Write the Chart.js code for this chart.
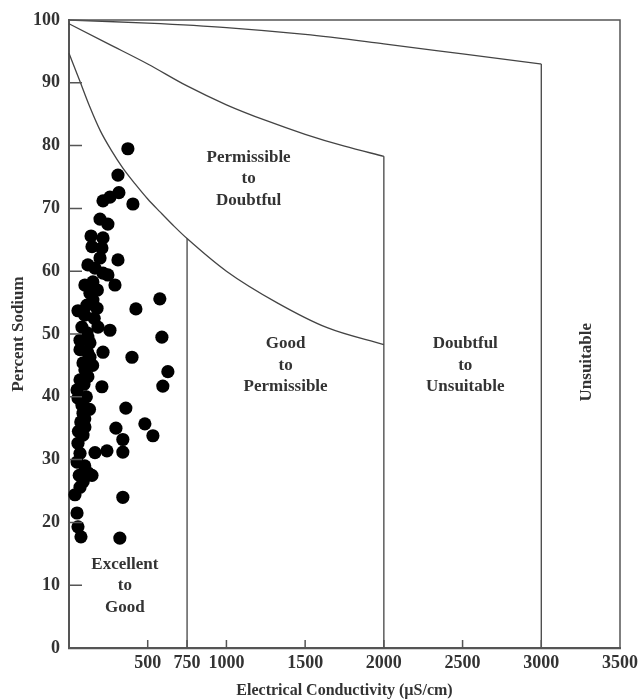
<!DOCTYPE html>
<html>
<head>
<meta charset="utf-8">
<script src="https://cdn.jsdelivr.net/npm/chart.js@4.4.1/dist/chart.umd.min.js"></script>
<style>
  html, body { margin: 0; padding: 0; background: #fff; }
  #wrap { width: 639px; height: 700px; position: relative; }
</style>
</head>
<body>
<div id="wrap"><canvas id="wilcox"></canvas></div>
<script>
// Wilcox 图 · 电导率 vs 钠百分比

const EC_TICKS = [500, 750, 1000, 1500, 2000, 2500, 3000, 3500];

// 样点（EC μS/cm, Na %）
const SAMPLE_EC = [374, 311, 317, 260, 216, 406, 197, 247, 140, 216, 146, 209, 197, 311, 120, 216, 247, 101, 292, 152,
  133, 152, 178, 114, 577, 425, 57, 184, 260, 82, 114, 590, 70, 133, 216, 70, 133, 400, 89, 101,
  628, 120, 70, 209, 596, 51, 57, 82, 361, 89, 101, 482, 298, 89, 533, 342, 342, 57, 241, 165,
  51, 120, 146, 70, 38, 342, 51, 57, 76, 323,
  100, 160, 120, 150, 110, 130, 100, 75, 60, 70, 100, 65, 90, 165, 180, 120, 95];
const SAMPLE_NA = [79.5, 75.3, 72.5, 71.8, 71.2, 70.7, 68.3, 67.5, 65.6, 65.3, 63.9, 63.7, 62.1, 61.8, 61, 59.7, 59.4, 57.8, 57.8, 58.3,
  56.5, 55.4, 54.1, 54.6, 55.6, 54, 53.7, 51.1, 50.6, 51.1, 50.2, 49.5, 49, 48.6, 47.1, 47.5, 46.3, 46.3, 45.4, 44.3,
  44, 43.2, 42.7, 41.6, 41.7, 41.1, 39.8, 38.7, 38.2, 37.4, 35.2, 35.7, 35, 33.9, 33.8, 33.2, 31.2, 32.6, 31.4, 31.1,
  29.6, 27.9, 27.5, 25.6, 24.4, 24, 21.5, 19.3, 17.7, 17.5,
  53, 52.5, 49.5, 45, 40, 38, 36.5, 36, 34.5, 31, 29, 27.5, 26.5, 60.5, 57, 47, 42];

// 分区边界曲线
const BOUND_A_EC = [0, 70, 130, 200, 270, 340, 420, 500, 580, 670, 750, 1000, 1320, 1640, 2000];
const BOUND_A_NA = [94.7, 90.2, 86.3, 82.3, 79.2, 76.5, 73.9, 71.5, 69.4, 67.1, 65.2, 60, 55, 51, 48.3];
const BOUND_B_EC = [0, 250, 500, 750, 1000, 1250, 1500, 1750, 2000];
const BOUND_B_NA = [99.4, 96.2, 93, 89.5, 86.5, 84, 81.8, 79.9, 78.3];
const BOUND_C_EC = [0, 500, 1000, 1500, 2000, 2500, 3000];
const BOUND_C_NA = [100, 99.5, 98.8, 97.7, 96.2, 94.6, 93];

// 竖直分隔线
const DIVIDER_EC = [750, 2000, 3000];
const DIVIDER_TOP = [65.2, 78.3, 93];

// 分区文字
const ZONE_TEXT = [
  ["Permissible", "to", "Doubtful"],
  ["Good", "to", "Permissible"],
  ["Doubtful", "to", "Unsuitable"],
  ["Unsuitable"],
  ["Excellent", "to", "Good"],
];
const ZONE_EC = [1141, 1376, 2517, 3285, 355];
const ZONE_NA = [74.7, 45, 45, 45.5, 9.9];

const INK = "#333";
const LINE = "#444";
const FONT = "'Liberation Serif', 'DejaVu Serif', serif";

const pts = (xs, ys) => xs.map((x, i) => ({ x, y: ys[i] }));

const lineDs = (xs, ys) => ({
  type: "line",
  data: pts(xs, ys),
  borderColor: LINE,
  borderWidth: 1.3,
  pointRadius: 0,
  cubicInterpolationMode: "monotone",
  fill: false,
  clip: 4,
});

const datasets = [
  lineDs(BOUND_A_EC, BOUND_A_NA),
  lineDs(BOUND_B_EC, BOUND_B_NA),
  lineDs(BOUND_C_EC, BOUND_C_NA),
  ...DIVIDER_EC.map((x, i) => lineDs([x, x], [DIVIDER_TOP[i], 0])),
  {
    type: "scatter",
    data: pts(SAMPLE_EC, SAMPLE_NA),
    backgroundColor: "#000",
    borderWidth: 0,
    pointRadius: 6.6,
    clip: false,
  },
];

// 边框 + 内向刻度 + 分区文字
const decor = {
  id: "decor",
  afterDatasetsDraw(chart) {
    const { ctx, chartArea: a, scales: { x, y } } = chart;
    ctx.save();
    ctx.strokeStyle = "#555";
    ctx.lineWidth = 1.5;
    ctx.beginPath();
    ctx.moveTo(a.left, a.top); ctx.lineTo(a.right, a.top); ctx.lineTo(a.right, a.bottom);
    ctx.stroke();

    ctx.beginPath();
    for (let v = 10; v < 100; v += 10) {
      const py = y.getPixelForValue(v);
      ctx.moveTo(a.left, py); ctx.lineTo(a.left + 13, py);
    }
    EC_TICKS.filter(v => v < 3500).forEach(v => {
      const px = x.getPixelForValue(v);
      ctx.moveTo(px, a.bottom); ctx.lineTo(px, a.bottom - 8);
    });
    ctx.stroke();

    ctx.fillStyle = INK;
    ctx.font = `bold 17px ${FONT}`;
    ctx.textAlign = "center";
    ctx.textBaseline = "middle";
    ZONE_TEXT.forEach((lines, i) => {
      const cx = x.getPixelForValue(ZONE_EC[i]);
      const cy = y.getPixelForValue(ZONE_NA[i]);
      if (lines.length === 1) {
        ctx.save();
        ctx.translate(cx, cy);
        ctx.rotate(-Math.PI / 2);
        ctx.fillText(lines[0], 0, 0);
        ctx.restore();
        return;
      }
      lines.forEach((t, k) => ctx.fillText(t, cx, cy + (k - 1) * 21.5));
    });
    ctx.restore();
  },
};

Chart.defaults.color = INK;
Chart.defaults.font.family = FONT;

new Chart(document.getElementById("wilcox"), {
  data: { datasets },
  plugins: [decor],
  options: {
    responsive: true,
    maintainAspectRatio: false,
    animation: false,
    layout: { padding: { top: 20, right: 19, left: 0, bottom: 0 } },
    plugins: { legend: { display: false }, tooltip: { enabled: false } },
    scales: {
      x: {
        type: "linear",
        min: 0,
        max: 3500,
        afterBuildTicks: s => { s.ticks = EC_TICKS.map(v => ({ value: v })); },
        afterFit: s => { s.height = 52; s.paddingRight = 0; s.paddingLeft = 0; },
        grid: { display: false, drawTicks: false },
        border: { display: true, color: "#555", width: 2.2 },
        ticks: {
          padding: 5, maxRotation: 0, autoSkip: false,
          callback: v => String(v),
          font: { size: 18, weight: "bold" }, color: INK,
        },
        title: {
          display: true,
          text: "Electrical Conductivity (µS/cm)",
          font: { size: 16, weight: "bold" },
          color: INK,
          padding: { top: 0, bottom: 0 },
        },
      },
      y: {
        type: "linear",
        min: 0,
        max: 100,
        afterFit: s => { s.width = 69; },
        grid: { display: false, drawTicks: false },
        border: { display: true, color: "#555", width: 2 },
        ticks: { stepSize: 10, padding: 9, font: { size: 18, weight: "bold" }, color: INK },
        title: {
          display: true,
          text: "Percent Sodium",
          font: { size: 17, weight: "bold" },
          color: INK,
          padding: { top: 8, bottom: 0 },
        },
      },
    },
  },
});
</script>
</body>
</html>
